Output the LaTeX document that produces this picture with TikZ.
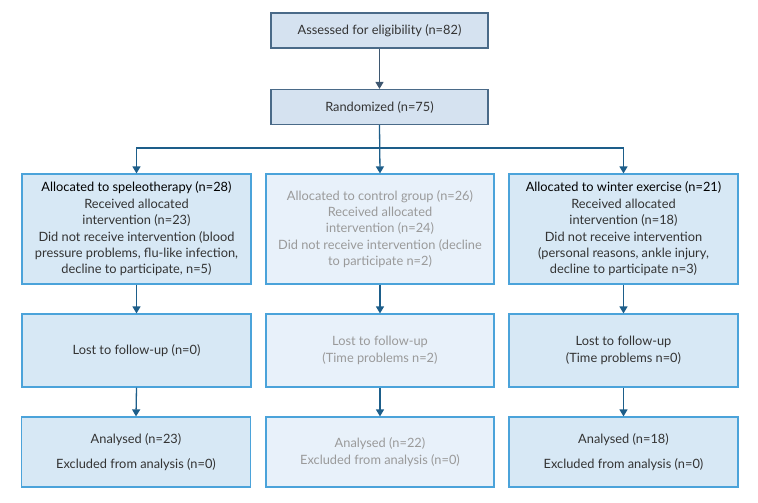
\documentclass[tikz,border=0pt]{standalone}
\usepackage{fontspec}
\setmainfont{Lato}
\usetikzlibrary{arrows.meta}
\definecolor{topbd}{HTML}{4A6A88}
\definecolor{topfill}{HTML}{D5E2F0}
\definecolor{boxbd}{HTML}{4BA3DA}
\definecolor{boxfill}{HTML}{D7E8F5}
\definecolor{midfill}{HTML}{E8F1FA}
\definecolor{arr}{HTML}{1D5E8A}
\definecolor{toparr}{HTML}{3E5770}
\definecolor{txt}{HTML}{333333}
\definecolor{midtxt}{HTML}{9A9A9A}
\begin{document}
\begin{tikzpicture}[x=1pt,y=-1pt,
  base/.style={rectangle, align=center, inner sep=0pt, line width=1.2pt,
    font=\fontsize{12.8}{16.4}\selectfont, text=txt},
  topbox/.style={base, draw=topbd, fill=topfill, minimum width=217pt, minimum height=35pt},
  sidebox/.style={base, draw=boxbd, fill=boxfill, minimum width=229pt},
  midbox/.style={base, draw=boxbd, fill=midfill, minimum width=228pt, text=midtxt},
  conn/.style={draw=arr, line width=1.3pt},
  arw/.style={conn, -{Triangle[width=8pt,length=7pt]}},
  toparw/.style={draw=toparr, line width=1.3pt, -{Triangle[width=8pt,length=7pt]}}
]
\useasboundingbox (0,0) rectangle (758,503);
\node[topbox] (assess) at (379.5,30.5) {Assessed for eligibility (n=82)};
\node[topbox] (rand) at (379.5,107) {Randomized (n=75)};

\node[sidebox, minimum height=110pt] (a1) at (136.5,229) {{\color{black}Allocated to speleotherapy (n=28)}\\Received allocated\\intervention (n=23)\\Did not receive intervention (blood\\pressure problems, flu-like infection,\\decline to participate, n=5)};
\node[midbox, minimum height=110pt] (b1) at (380,229) {Allocated to control group (n=26)\\Received allocated\\intervention (n=24)\\Did not receive intervention (decline\\to participate n=2)};
\node[sidebox, minimum height=110pt] (c1) at (623.5,229) {{\color{black}Allocated to winter exercise (n=21)}\\Received allocated\\intervention (n=18)\\Did not receive intervention\\(personal reasons, ankle injury,\\decline to participate n=3)};

\node[sidebox, minimum height=73pt] (a2) at (136.5,350.5) {Lost to follow-up (n=0)};
\node[midbox, minimum height=73pt] (b2) at (380,350.5) {Lost to follow-up\\(Time problems n=2)};
\node[sidebox, minimum height=73pt] (c2) at (623.5,350.5) {Lost to follow-up\\(Time problems n=0)};

\node[sidebox, minimum height=70pt, font=\fontsize{12.8}{25}\selectfont] (a3) at (136,452) {Analysed (n=23)\\Excluded from analysis (n=0)};
\node[midbox, minimum height=70pt] (b3) at (380,452) {Analysed (n=22)\\Excluded from analysis (n=0)};
\node[sidebox, minimum height=70pt, font=\fontsize{12.8}{25}\selectfont] (c3) at (623.5,452) {Analysed (n=18)\\Excluded from analysis (n=0)};

\coordinate (split) at (379.5,148);
\draw[toparw] (assess) -- (rand);
\draw[arw] (rand.south) -- (b1.north);
\draw[arw] (split) -| (a1.north);
\draw[arw] (split) -| (c1.north);
\foreach \u/\v in {a1/a2,b1/b2,c1/c2,a2/a3,b2/b3,c2/c3}{
  \draw[arw] (\u.south) -- (\v.north);
}
\end{tikzpicture}
\end{document}
